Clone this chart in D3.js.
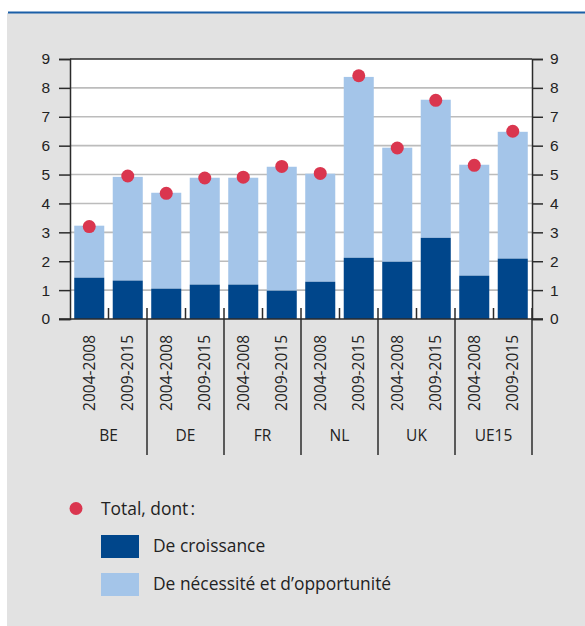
<!DOCTYPE html>
<html>
<head>
<meta charset="utf-8">
<script src="https://cdn.jsdelivr.net/npm/d3@7"></script>
<style>
  body { margin: 0; background: #fff; }
  svg { display: block; font-family: "Open Sans", sans-serif; }
  .tick-label { fill: #222; font-size: 15.5px; }
</style>
</head>
<body>
<div id="chart"></div>
<script>
const countries = [`BE`, `DE`, `FR`, `NL`, `UK`, `UE15`];
const periods = [`2004-2008`, `2009-2015`];
// values per bar, in country order, two periods each
const croissance = [1.43, 1.33, 1.05, 1.19, 1.19, 0.98, 1.29, 2.12, 1.98, 2.81, 1.50, 2.09];
const necessite = [1.80, 3.59, 3.32, 3.70, 3.70, 4.29, 3.74, 6.26, 3.95, 4.78, 3.84, 4.39];
const totals = [3.2, 4.95, 4.35, 4.88, 4.91, 5.28, 5.04, 8.42, 5.92, 7.57, 5.32, 6.5];
const yTicks = [0, 1, 2, 3, 4, 5, 6, 7, 8, 9];

const colors = {dark: `#00468b`, light: `#a4c5e9`, dot: `#da364f`, grid: `#bcbcbc`, axis: `#2b2b2b`};
const width = 585, height = 626;
const margin = {top: 59, left: 70, right: 53, bottom: 307};

const bars = [];
countries.forEach((c, i) => periods.forEach((p, j) => {
  const k = i * 2 + j;
  bars.push({key: `${c}|${p}`, country: c, period: p, g: croissance[k], n: necessite[k], total: totals[k]});
}));

const svg = d3.select(`#chart`).append(`svg`)
  .attr(`width`, width)
  .attr(`height`, height);

// panel
svg.append(`rect`).attr(`x`, 7).attr(`y`, 13).attr(`width`, width - 7).attr(`height`, height - 13).attr(`fill`, `#e2e2e2`);
svg.append(`line`).attr(`x1`, 8).attr(`x2`, width).attr(`y1`, 12.5).attr(`y2`, 12.5)
  .attr(`stroke`, `#1b5fa7`).attr(`stroke-width`, 2);

const x0 = margin.left, x1 = width - margin.right;
const yTop = margin.top, yBase = height - margin.bottom;

const x = d3.scaleBand()
  .domain(bars.map(d => d.key))
  .range([x0, x1])
  .paddingInner(0.22)
  .paddingOuter(0.11);

const y = d3.scaleLinear().domain([0, 9]).range([yBase, yTop]);

svg.append(`rect`).attr(`x`, x0).attr(`y`, yTop).attr(`width`, x1 - x0).attr(`height`, yBase - yTop).attr(`fill`, `#fff`);

// grid
svg.append(`g`).selectAll(`line`)
  .data(yTicks.filter(t => t > 0 && t < 9))
  .enter().append(`line`)
  .attr(`x1`, x0).attr(`x2`, x1)
  .attr(`y1`, d => y(d)).attr(`y2`, d => y(d))
  .attr(`stroke`, colors.grid).attr(`stroke-width`, 1.6);

// stacked bars
const gBars = svg.append(`g`);
gBars.selectAll(`.light`).data(bars).enter().append(`rect`)
  .attr(`x`, d => x(d.key)).attr(`width`, x.bandwidth())
  .attr(`y`, d => y(d.g + d.n)).attr(`height`, d => y(d.g) - y(d.g + d.n))
  .attr(`fill`, colors.light);
gBars.selectAll(`.dark`).data(bars).enter().append(`rect`)
  .attr(`x`, d => x(d.key)).attr(`width`, x.bandwidth())
  .attr(`y`, d => y(d.g)).attr(`height`, d => y(0) - y(d.g))
  .attr(`fill`, colors.dark);

// axes
const axisLeft = svg.append(`g`).attr(`transform`, `translate(${x0},0)`)
  .call(d3.axisLeft(y).tickValues(yTicks).tickSize(11).tickPadding(9));
const axisRight = svg.append(`g`).attr(`transform`, `translate(${x1},0)`)
  .call(d3.axisRight(y).tickValues(yTicks).tickSize(11).tickPadding(7));
[axisLeft, axisRight].forEach(a => {
  a.select(`.domain`).attr(`stroke`, colors.axis).attr(`stroke-width`, 1.5);
  a.selectAll(`.tick line`).attr(`stroke`, colors.axis).attr(`stroke-width`, 1.5);
  a.selectAll(`.tick text`).attr(`class`, `tick-label`).attr(`font-family`, null).attr(`font-size`, null);
});

// top border and baseline
svg.append(`line`).attr(`x1`, x0).attr(`x2`, x1).attr(`y1`, yTop).attr(`y2`, yTop)
  .attr(`stroke`, colors.axis).attr(`stroke-width`, 1.5);
svg.append(`line`).attr(`x1`, x0 - 11).attr(`x2`, x1 + 11).attr(`y1`, yBase).attr(`y2`, yBase)
  .attr(`stroke`, colors.axis).attr(`stroke-width`, 1.5);

// dots
svg.append(`g`).selectAll(`circle`).data(bars).enter().append(`circle`)
  .attr(`cx`, d => x(d.key) + x.bandwidth() / 2)
  .attr(`cy`, d => y(d.total))
  .attr(`r`, 6.5)
  .attr(`fill`, colors.dot);

// category ticks
const step = x.step();
const inner = countries.map((c, i) => x(`${c}|${periods[1]}`) - (step - x.bandwidth()) / 2);
const groupEdges = countries.map((c, i) => x(`${c}|${periods[1]}`) + x.bandwidth() + (step - x.bandwidth()) / 2);
svg.append(`g`).selectAll(`line`).data(inner).enter().append(`line`)
  .attr(`x1`, d => d).attr(`x2`, d => d).attr(`y1`, yBase - 11).attr(`y2`, yBase)
  .attr(`stroke`, colors.axis).attr(`stroke-width`, 1.5);
svg.append(`g`).selectAll(`line`).data(groupEdges).enter().append(`line`)
  .attr(`x1`, d => d).attr(`x2`, d => d).attr(`y1`, yBase - 11).attr(`y2`, yBase + 136)
  .attr(`stroke`, colors.axis).attr(`stroke-width`, 1.5);

// rotated period labels
svg.append(`g`).selectAll(`text`).data(bars).enter().append(`text`)
  .attr(`class`, `tick-label`)
  .attr(`transform`, d => `translate(${x(d.key) + x.bandwidth() / 2 + 5.5},${yBase + 16}) rotate(-90)`)
  .attr(`text-anchor`, `end`)
  .text(d => d.period);

// country labels
svg.append(`g`).selectAll(`text`).data(countries).enter().append(`text`)
  .attr(`class`, `tick-label`)
  .attr(`x`, c => x(`${c}|${periods[1]}`) - (step - x.bandwidth()) / 2)
  .attr(`y`, yBase + 122)
  .attr(`text-anchor`, `middle`)
  .text(c => c);

// legend
const legend = svg.append(`g`).attr(`font-size`, `17.4px`).attr(`fill`, `#222`);
legend.append(`circle`).attr(`cx`, 76).attr(`cy`, 508.5).attr(`r`, 6.5).attr(`fill`, colors.dot);
legend.append(`text`).attr(`x`, 101).attr(`y`, 515).text(`Total, dont\u202F:`);
const legendItems = [
  {label: `De croissance`, color: colors.dark},
  {label: `De nécessité et d’opportunité`, color: colors.light},
];
legendItems.forEach((d, i) => {
  legend.append(`rect`).attr(`x`, 101).attr(`y`, 535 + i * 38).attr(`width`, 38).attr(`height`, 23).attr(`fill`, d.color);
  legend.append(`text`).attr(`x`, 153).attr(`y`, 552 + i * 38).text(d.label);
});
</script>
</body>
</html>
